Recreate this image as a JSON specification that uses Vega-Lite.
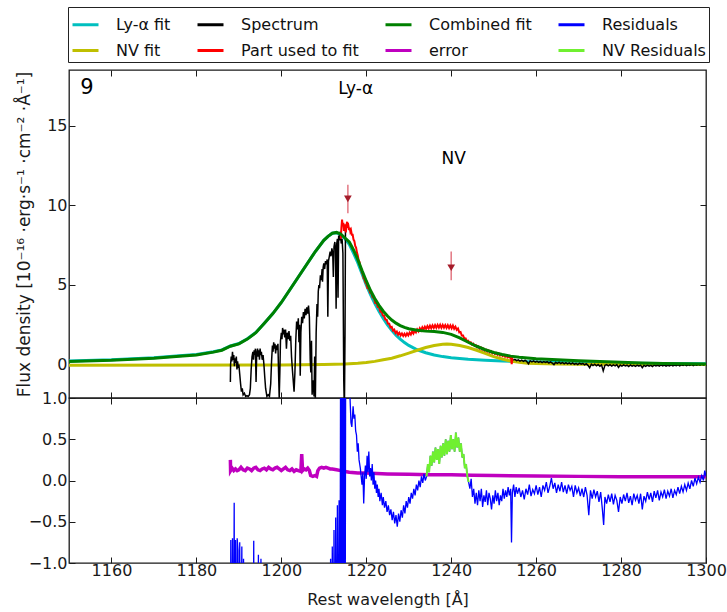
{
"$schema":"https://vega.github.io/schema/vega-lite/v6.json",
"padding":{"left":14,"top":5,"right":5,"bottom":5},
"config":{"font":"DejaVu Sans","view":{"stroke":"#1a1a1a","strokeWidth":1.3},
"axis":{"domain":false,"grid":false,"tickSize":-6,"tickColor":"#1a1a1a","tickWidth":1,"labelFontSize":16,"labelColor":"#1a1a1a","labelFont":"DejaVu Sans","labelFlush":false,"titleFont":"DejaVu Sans","titleFontSize":16,"titleFontWeight":"normal","titleColor":"#1a1a1a"}},
"datasets":{
"lya":[{"w":1150,"f":0.23},{"w":1160,"f":0.3},{"w":1170,"f":0.43},{"w":1176,"f":0.55},{"w":1180,"f":0.63},{"w":1184,"f":0.8},{"w":1186,"f":0.92},{"w":1188,"f":1.17},{"w":1190,"f":1.32},{"w":1192,"f":1.62},{"w":1194,"f":2.02},{"w":1196,"f":2.6},{"w":1198,"f":3.2},{"w":1200,"f":3.9},{"w":1202,"f":4.7},{"w":1204,"f":5.5},{"w":1206,"f":6.3},{"w":1208,"f":7.1},{"w":1210,"f":7.8},{"w":1211,"f":8.05},{"w":1212,"f":8.25},{"w":1213,"f":8.28},{"w":1214,"f":8.15},{"w":1215,"f":7.9},{"w":1216,"f":7.55},{"w":1217,"f":7.0},{"w":1218,"f":6.4},{"w":1219,"f":5.7},{"w":1220,"f":5.0},{"w":1221,"f":4.4},{"w":1222,"f":3.85},{"w":1223,"f":3.35},{"w":1224,"f":2.9},{"w":1225,"f":2.5},{"w":1226,"f":2.15},{"w":1227,"f":1.85},{"w":1228,"f":1.6},{"w":1229,"f":1.38},{"w":1230,"f":1.2},{"w":1232,"f":0.93},{"w":1234,"f":0.74},{"w":1236,"f":0.6},{"w":1238,"f":0.5},{"w":1240,"f":0.43},{"w":1244,"f":0.33},{"w":1248,"f":0.27},{"w":1252,"f":0.22},{"w":1256,"f":0.19},{"w":1260,"f":0.16},{"w":1270,"f":0.12},{"w":1280,"f":0.09},{"w":1290,"f":0.07},{"w":1300,"f":0.05}],
"nv":[{"w":1150,"f":-0.04},{"w":1200,"f":-0.02},{"w":1210,"f":0.0},{"w":1215,"f":0.03},{"w":1218,"f":0.08},{"w":1220,"f":0.13},{"w":1222,"f":0.2},{"w":1224,"f":0.3},{"w":1226,"f":0.4},{"w":1228,"f":0.55},{"w":1230,"f":0.72},{"w":1232,"f":0.9},{"w":1234,"f":1.07},{"w":1236,"f":1.2},{"w":1238,"f":1.28},{"w":1239,"f":1.29},{"w":1240,"f":1.28},{"w":1242,"f":1.2},{"w":1244,"f":1.07},{"w":1246,"f":0.9},{"w":1248,"f":0.7},{"w":1250,"f":0.5},{"w":1252,"f":0.35},{"w":1254,"f":0.22},{"w":1256,"f":0.14},{"w":1258,"f":0.09},{"w":1260,"f":0.06},{"w":1265,"f":0.03},{"w":1270,"f":0.02},{"w":1300,"f":0.0}],
"comb":[{"w":1150,"f":0.2},{"w":1160,"f":0.27},{"w":1170,"f":0.4},{"w":1176,"f":0.52},{"w":1180,"f":0.6},{"w":1184,"f":0.78},{"w":1186,"f":0.9},{"w":1188,"f":1.15},{"w":1190,"f":1.3},{"w":1192,"f":1.6},{"w":1194,"f":2.0},{"w":1196,"f":2.6},{"w":1198,"f":3.2},{"w":1200,"f":3.9},{"w":1202,"f":4.7},{"w":1204,"f":5.5},{"w":1206,"f":6.3},{"w":1208,"f":7.1},{"w":1210,"f":7.8},{"w":1211,"f":8.05},{"w":1212,"f":8.25},{"w":1213,"f":8.3},{"w":1214,"f":8.2},{"w":1215,"f":7.95},{"w":1216,"f":7.7},{"w":1217,"f":7.2},{"w":1218,"f":6.6},{"w":1219,"f":5.9},{"w":1220,"f":5.25},{"w":1221,"f":4.65},{"w":1222,"f":4.15},{"w":1223,"f":3.72},{"w":1224,"f":3.35},{"w":1225,"f":3.05},{"w":1226,"f":2.8},{"w":1227,"f":2.6},{"w":1228,"f":2.45},{"w":1229,"f":2.33},{"w":1230,"f":2.25},{"w":1232,"f":2.15},{"w":1234,"f":2.1},{"w":1236,"f":2.07},{"w":1238,"f":2.02},{"w":1240,"f":1.9},{"w":1242,"f":1.68},{"w":1244,"f":1.4},{"w":1246,"f":1.15},{"w":1248,"f":0.93},{"w":1250,"f":0.76},{"w":1252,"f":0.63},{"w":1254,"f":0.53},{"w":1256,"f":0.46},{"w":1258,"f":0.41},{"w":1260,"f":0.37},{"w":1265,"f":0.3},{"w":1270,"f":0.24},{"w":1275,"f":0.19},{"w":1280,"f":0.14},{"w":1285,"f":0.1},{"w":1290,"f":0.07},{"w":1295,"f":0.05},{"w":1300,"f":0.03}],
"spec":[{"w":1188.0,"f":-1.1},{"w":1188.05,"f":0.0},{"w":1188.2,"f":0.5},{"w":1188.35,"f":0.2},{"w":1188.5,"f":0.8},{"w":1188.65,"f":0.3},{"w":1188.8,"f":0.6},{"w":1188.95,"f":-0.1},{"w":1189.1,"f":0.4},{"w":1189.25,"f":0.1},{"w":1189.4,"f":0.5},{"w":1189.55,"f":-0.3},{"w":1189.7,"f":0.2},{"w":1189.85,"f":-0.2},{"w":1190.0,"f":0.0},{"w":1190.2,"f":-0.6},{"w":1190.4,"f":-1.2},{"w":1190.6,"f":-1.7},{"w":1190.8,"f":-1.5},{"w":1191.0,"f":-1.9},{"w":1191.3,"f":-1.8},{"w":1191.6,"f":-2.0},{"w":1191.9,"f":-1.95},{"w":1192.2,"f":-2.0},{"w":1192.5,"f":-1.9},{"w":1192.7,"f":-1.5},{"w":1192.9,"f":-0.3},{"w":1193.1,"f":0.5},{"w":1193.3,"f":0.8},{"w":1193.45,"f":0.3},{"w":1193.6,"f":0.9},{"w":1193.75,"f":0.6},{"w":1193.9,"f":1.0},{"w":1194.05,"f":-1.1},{"w":1194.2,"f":0.7},{"w":1194.4,"f":1.0},{"w":1194.55,"f":0.5},{"w":1194.7,"f":0.9},{"w":1194.85,"f":0.3},{"w":1195.0,"f":1.0},{"w":1195.15,"f":0.6},{"w":1195.3,"f":0.8},{"w":1195.5,"f":0.3},{"w":1195.7,"f":0.6},{"w":1195.9,"f":0.0},{"w":1196.1,"f":-0.8},{"w":1196.3,"f":-1.5},{"w":1196.6,"f":-2.0},{"w":1196.9,"f":-1.9},{"w":1197.2,"f":-2.0},{"w":1197.5,"f":-1.2},{"w":1197.7,"f":0.2},{"w":1197.9,"f":1.2},{"w":1198.05,"f":0.8},{"w":1198.2,"f":1.4},{"w":1198.35,"f":1.0},{"w":1198.5,"f":1.3},{"w":1198.65,"f":0.7},{"w":1198.8,"f":1.2},{"w":1199.0,"f":0.9},{"w":1199.2,"f":1.3},{"w":1199.35,"f":-0.5},{"w":1199.5,"f":-2.1},{"w":1199.65,"f":-0.5},{"w":1199.8,"f":1.5},{"w":1200.0,"f":2.0},{"w":1200.15,"f":1.6},{"w":1200.3,"f":2.3},{"w":1200.45,"f":1.9},{"w":1200.6,"f":2.2},{"w":1200.8,"f":1.7},{"w":1201.0,"f":2.2},{"w":1201.2,"f":1.0},{"w":1201.4,"f":2.0},{"w":1201.6,"f":1.6},{"w":1201.8,"f":2.1},{"w":1202.0,"f":1.5},{"w":1202.2,"f":1.8},{"w":1202.4,"f":0.5},{"w":1202.6,"f":-0.3},{"w":1202.8,"f":-1.0},{"w":1203.0,"f":-1.7},{"w":1203.2,"f":-0.5},{"w":1203.4,"f":1.5},{"w":1203.6,"f":2.7},{"w":1203.8,"f":2.2},{"w":1204.0,"f":2.9},{"w":1204.15,"f":1.4},{"w":1204.3,"f":2.5},{"w":1204.45,"f":-0.7},{"w":1204.6,"f":2.0},{"w":1204.8,"f":3.0},{"w":1205.0,"f":2.6},{"w":1205.2,"f":3.3},{"w":1205.4,"f":2.9},{"w":1205.6,"f":3.5},{"w":1205.8,"f":3.1},{"w":1206.0,"f":3.6},{"w":1206.2,"f":3.2},{"w":1206.4,"f":3.7},{"w":1206.6,"f":3.0},{"w":1206.8,"f":0.3},{"w":1206.95,"f":-0.5},{"w":1207.1,"f":1.5},{"w":1207.25,"f":-1.9},{"w":1207.4,"f":-1.0},{"w":1207.55,"f":-1.2},{"w":1207.7,"f":-2.0},{"w":1207.85,"f":0.5},{"w":1208.0,"f":-2.5},{"w":1208.2,"f":2.0},{"w":1208.4,"f":3.8},{"w":1208.55,"f":3.0},{"w":1208.7,"f":4.6},{"w":1208.85,"f":5.0},{"w":1209.0,"f":4.8},{"w":1209.2,"f":5.6},{"w":1209.4,"f":5.3},{"w":1209.6,"f":6.0},{"w":1209.7,"f":5.2},{"w":1209.85,"f":6.1},{"w":1210.0,"f":6.35},{"w":1210.2,"f":6.0},{"w":1210.4,"f":6.5},{"w":1210.6,"f":6.3},{"w":1210.8,"f":6.6},{"w":1210.95,"f":3.0},{"w":1211.1,"f":6.5},{"w":1211.3,"f":6.8},{"w":1211.5,"f":7.1},{"w":1211.7,"f":6.8},{"w":1211.9,"f":7.3},{"w":1212.1,"f":7.0},{"w":1212.25,"f":5.5},{"w":1212.4,"f":7.4},{"w":1212.6,"f":7.7},{"w":1212.75,"f":7.3},{"w":1212.9,"f":3.5},{"w":1213.05,"f":7.6},{"w":1213.2,"f":7.9},{"w":1213.35,"f":4.2},{"w":1213.5,"f":8.1},{"w":1213.7,"f":7.8},{"w":1213.9,"f":8.35},{"w":1214.1,"f":7.6},{"w":1214.3,"f":7.9},{"w":1214.5,"f":7.0},{"w":1214.7,"f":-1.0},{"w":1214.85,"f":-3.0},{"w":1215.0,"f":2.0},{"w":1215.1,"f":8.5},{"w":1215.3,"f":8.4}],
"specr":[{"w":1254.6,"f":0.28},{"w":1255.0,"f":0.33},{"w":1255.4,"f":0.25},{"w":1255.8,"f":0.3},{"w":1256.2,"f":0.22},{"w":1256.6,"f":0.28},{"w":1257.0,"f":0.2},{"w":1257.4,"f":0.27},{"w":1257.8,"f":0.19},{"w":1258.2,"f":0.05},{"w":1258.6,"f":0.24},{"w":1259.0,"f":0.17},{"w":1259.4,"f":0.23},{"w":1259.8,"f":0.15},{"w":1260.2,"f":0.22},{"w":1260.6,"f":0.14},{"w":1261.0,"f":0.2},{"w":1261.4,"f":0.12},{"w":1261.8,"f":0.19},{"w":1262.2,"f":0.13},{"w":1262.6,"f":0.18},{"w":1263.0,"f":0.1},{"w":1263.4,"f":0.17},{"w":1263.8,"f":0.09},{"w":1264.2,"f":0.0},{"w":1264.6,"f":0.14},{"w":1265.0,"f":0.08},{"w":1265.4,"f":0.15},{"w":1265.8,"f":0.06},{"w":1266.2,"f":0.13},{"w":1266.6,"f":0.05},{"w":1267.0,"f":0.12},{"w":1267.4,"f":0.04},{"w":1267.8,"f":0.1},{"w":1268.2,"f":0.03},{"w":1268.6,"f":0.1},{"w":1269.0,"f":0.02},{"w":1269.4,"f":0.08},{"w":1269.8,"f":0.0},{"w":1270.2,"f":0.09},{"w":1270.6,"f":0.02},{"w":1271.0,"f":0.07},{"w":1271.4,"f":-0.02},{"w":1271.8,"f":0.05},{"w":1272.2,"f":-0.05},{"w":1272.6,"f":-0.2},{"w":1273.0,"f":0.03},{"w":1273.4,"f":-0.06},{"w":1273.8,"f":0.02},{"w":1274.2,"f":-0.08},{"w":1274.6,"f":0.0},{"w":1275.0,"f":-0.1},{"w":1275.4,"f":-0.02},{"w":1275.8,"f":-0.4},{"w":1276.2,"f":-0.05},{"w":1276.6,"f":0.0},{"w":1277.0,"f":-0.08},{"w":1277.4,"f":-0.01},{"w":1277.8,"f":-0.09},{"w":1278.2,"f":-0.02},{"w":1278.6,"f":-0.08},{"w":1279.0,"f":0.0},{"w":1279.4,"f":-0.18},{"w":1279.8,"f":-0.03},{"w":1280.2,"f":-0.1},{"w":1280.6,"f":-0.02},{"w":1281.0,"f":-0.09},{"w":1281.4,"f":-0.04},{"w":1281.8,"f":-0.12},{"w":1282.2,"f":-0.03},{"w":1282.6,"f":-0.1},{"w":1283.0,"f":-0.05},{"w":1283.4,"f":-0.11},{"w":1283.8,"f":-0.03},{"w":1284.2,"f":-0.1},{"w":1284.6,"f":-0.04},{"w":1285.0,"f":-0.2},{"w":1285.4,"f":-0.05},{"w":1285.8,"f":-0.11},{"w":1286.2,"f":-0.04},{"w":1286.6,"f":-0.1},{"w":1287.0,"f":-0.05},{"w":1287.4,"f":-0.12},{"w":1287.8,"f":-0.03},{"w":1288.2,"f":-0.09},{"w":1288.6,"f":-0.04},{"w":1289.0,"f":-0.1},{"w":1289.4,"f":-0.02},{"w":1289.8,"f":-0.08},{"w":1290.2,"f":-0.03},{"w":1290.6,"f":-0.1},{"w":1291.0,"f":-0.04},{"w":1291.4,"f":-0.08},{"w":1291.8,"f":-0.02},{"w":1292.2,"f":-0.09},{"w":1292.6,"f":-0.03},{"w":1293.0,"f":-0.07},{"w":1293.4,"f":-0.01},{"w":1293.8,"f":-0.08},{"w":1294.2,"f":-0.02},{"w":1294.6,"f":-0.06},{"w":1295.0,"f":0.0},{"w":1295.4,"f":-0.07},{"w":1295.8,"f":-0.01},{"w":1296.2,"f":-0.05},{"w":1296.6,"f":0.01},{"w":1297.0,"f":-0.06},{"w":1297.4,"f":0.0},{"w":1297.8,"f":-0.04},{"w":1298.2,"f":0.02},{"w":1298.6,"f":-0.03},{"w":1299.0,"f":0.03},{"w":1299.4,"f":-0.02},{"w":1299.8,"f":0.02}],
"fitpart":[{"w":1214.0,"f":7.9},{"w":1214.15,"f":8.6},{"w":1214.3,"f":9.1},{"w":1214.45,"f":8.7},{"w":1214.6,"f":8.9},{"w":1214.75,"f":8.4},{"w":1214.9,"f":8.8},{"w":1215.05,"f":8.5},{"w":1215.2,"f":8.3},{"w":1215.35,"f":8.8},{"w":1215.5,"f":8.97},{"w":1215.65,"f":8.6},{"w":1215.8,"f":8.7},{"w":1215.95,"f":8.45},{"w":1216.1,"f":8.6},{"w":1216.25,"f":8.35},{"w":1216.4,"f":8.45},{"w":1216.6,"f":8.15},{"w":1216.8,"f":8.15},{"w":1217.0,"f":7.85},{"w":1217.2,"f":7.75},{"w":1217.4,"f":7.45},{"w":1217.6,"f":7.35},{"w":1217.8,"f":7.05},{"w":1218.0,"f":6.85},{"w":1218.2,"f":6.55},{"w":1218.4,"f":6.45},{"w":1218.6,"f":6.15},{"w":1218.8,"f":6.0},{"w":1219.0,"f":5.75},{"w":1219.2,"f":5.65},{"w":1219.4,"f":5.4},{"w":1219.6,"f":5.35},{"w":1219.8,"f":5.15},{"w":1220.0,"f":5.1},{"w":1220.3,"f":4.8},{"w":1220.6,"f":4.78},{"w":1220.9,"f":4.52},{"w":1221.2,"f":4.5},{"w":1221.5,"f":4.22},{"w":1221.8,"f":4.2},{"w":1222.1,"f":3.88},{"w":1222.4,"f":3.92},{"w":1222.7,"f":3.62},{"w":1223.0,"f":3.6},{"w":1223.3,"f":3.33},{"w":1223.6,"f":3.36},{"w":1223.9,"f":3.08},{"w":1224.2,"f":3.06},{"w":1224.5,"f":2.83},{"w":1224.8,"f":2.82},{"w":1225.1,"f":2.58},{"w":1225.4,"f":2.57},{"w":1225.7,"f":2.33},{"w":1226.0,"f":2.37},{"w":1226.3,"f":2.13},{"w":1226.6,"f":2.19},{"w":1226.9,"f":1.98},{"w":1227.2,"f":2.07},{"w":1227.5,"f":1.88},{"w":1227.8,"f":2.0},{"w":1228.1,"f":1.83},{"w":1228.4,"f":1.95},{"w":1228.7,"f":1.8},{"w":1229.0,"f":1.94},{"w":1229.3,"f":1.8},{"w":1229.6,"f":1.96},{"w":1229.9,"f":1.83},{"w":1230.2,"f":2.01},{"w":1230.5,"f":1.88},{"w":1230.8,"f":2.08},{"w":1231.1,"f":1.95},{"w":1231.4,"f":2.14},{"w":1231.7,"f":2.02},{"w":1232.0,"f":2.21},{"w":1232.3,"f":2.09},{"w":1232.6,"f":2.28},{"w":1232.9,"f":2.15},{"w":1233.2,"f":2.34},{"w":1233.5,"f":2.2},{"w":1233.8,"f":2.38},{"w":1234.1,"f":2.24},{"w":1234.4,"f":2.42},{"w":1234.7,"f":2.27},{"w":1235.0,"f":2.45},{"w":1235.3,"f":2.28},{"w":1235.6,"f":2.46},{"w":1235.9,"f":2.3},{"w":1236.2,"f":2.48},{"w":1236.5,"f":2.31},{"w":1236.8,"f":2.49},{"w":1237.1,"f":2.32},{"w":1237.4,"f":2.5},{"w":1237.7,"f":2.31},{"w":1238.0,"f":2.49},{"w":1238.3,"f":2.32},{"w":1238.6,"f":2.48},{"w":1238.9,"f":2.3},{"w":1239.2,"f":2.47},{"w":1239.5,"f":2.29},{"w":1239.8,"f":2.46},{"w":1240.1,"f":2.28},{"w":1240.4,"f":2.45},{"w":1240.7,"f":2.25},{"w":1241.0,"f":2.38},{"w":1241.3,"f":2.18},{"w":1241.6,"f":2.27},{"w":1241.9,"f":2.02},{"w":1242.2,"f":2.05},{"w":1242.5,"f":1.82},{"w":1242.8,"f":1.82},{"w":1243.1,"f":1.62},{"w":1243.4,"f":1.64},{"w":1243.7,"f":1.47},{"w":1244.0,"f":1.5},{"w":1244.3,"f":1.36},{"w":1244.6,"f":1.4},{"w":1244.9,"f":1.26},{"w":1245.2,"f":1.31},{"w":1245.5,"f":1.17},{"w":1245.8,"f":1.22},{"w":1246.1,"f":1.08},{"w":1246.4,"f":1.14},{"w":1246.7,"f":1.01},{"w":1247.0,"f":1.07},{"w":1247.3,"f":0.94},{"w":1247.6,"f":1.0},{"w":1247.9,"f":0.88},{"w":1248.2,"f":0.94},{"w":1248.5,"f":0.82},{"w":1248.8,"f":0.88},{"w":1249.1,"f":0.76},{"w":1249.4,"f":0.83},{"w":1249.7,"f":0.71},{"w":1250.0,"f":0.78},{"w":1250.3,"f":0.66},{"w":1250.6,"f":0.73},{"w":1250.9,"f":0.62},{"w":1251.2,"f":0.69},{"w":1251.5,"f":0.57},{"w":1251.8,"f":0.64},{"w":1252.1,"f":0.53},{"w":1252.4,"f":0.6},{"w":1252.7,"f":0.49},{"w":1253.0,"f":0.55},{"w":1253.3,"f":0.45},{"w":1253.6,"f":0.5},{"w":1253.9,"f":0.42},{"w":1254.1,"f":0.44},{"w":1254.25,"f":0.02},{"w":1254.4,"f":0.4},{"w":1254.55,"f":0.36}],
"err":[{"w":1188.0,"f":0.25},{"w":1188.05,"f":0.12},{"w":1188.4,"f":0.15},{"w":1188.8,"f":0.12},{"w":1189.2,"f":0.14},{"w":1189.6,"f":0.12},{"w":1190.0,"f":0.13},{"w":1190.5,"f":0.16},{"w":1191.0,"f":0.13},{"w":1191.5,"f":0.12},{"w":1192.0,"f":0.15},{"w":1192.5,"f":0.14},{"w":1193.0,"f":0.12},{"w":1193.5,"f":0.15},{"w":1194.0,"f":0.16},{"w":1194.5,"f":0.13},{"w":1195.0,"f":0.12},{"w":1195.5,"f":0.14},{"w":1196.0,"f":0.15},{"w":1196.5,"f":0.13},{"w":1197.0,"f":0.16},{"w":1197.5,"f":0.14},{"w":1198.0,"f":0.13},{"w":1198.5,"f":0.15},{"w":1199.0,"f":0.16},{"w":1199.5,"f":0.14},{"w":1200.0,"f":0.12},{"w":1200.5,"f":0.14},{"w":1201.0,"f":0.16},{"w":1201.5,"f":0.13},{"w":1202.0,"f":0.12},{"w":1202.5,"f":0.14},{"w":1203.0,"f":0.11},{"w":1203.5,"f":0.13},{"w":1204.0,"f":0.12},{"w":1204.6,"f":0.11},{"w":1204.8,"f":0.32},{"w":1205.0,"f":0.12},{"w":1205.4,"f":0.14},{"w":1205.8,"f":0.13},{"w":1206.2,"f":0.15},{"w":1206.6,"f":0.12},{"w":1206.9,"f":0.06},{"w":1207.4,"f":0.05},{"w":1207.9,"f":0.06},{"w":1208.3,"f":0.05},{"w":1208.6,"f":0.12},{"w":1209.0,"f":0.15},{"w":1209.5,"f":0.16},{"w":1210.0,"f":0.15},{"w":1210.5,"f":0.16},{"w":1211.0,"f":0.15},{"w":1211.5,"f":0.14},{"w":1212.0,"f":0.14},{"w":1213.0,"f":0.13},{"w":1214.0,"f":0.12},{"w":1215.0,"f":0.11},{"w":1216.0,"f":0.1},{"w":1218.0,"f":0.09},{"w":1220.0,"f":0.09},{"w":1225.0,"f":0.08},{"w":1230.0,"f":0.075},{"w":1235.0,"f":0.07},{"w":1240.0,"f":0.07},{"w":1245.0,"f":0.065},{"w":1250.0,"f":0.06},{"w":1260.0,"f":0.055},{"w":1270.0,"f":0.05},{"w":1280.0,"f":0.045},{"w":1290.0,"f":0.045},{"w":1300.0,"f":0.045}],
"res":[{"w":1188.0,"f":-3},{"w":1188.1,"f":-0.72},{"w":1188.3,"f":-3},{"w":1188.5,"f":-0.7},{"w":1188.7,"f":-3},{"w":1188.9,"f":-0.27},{"w":1189.0,"f":-3},{"w":1189.2,"f":-0.72},{"w":1189.4,"f":-3},{"w":1189.6,"f":-0.7},{"w":1189.8,"f":-0.85},{"w":1190.0,"f":-3},{"w":1190.2,"f":-0.75},{"w":1190.4,"f":-3},{"w":1190.7,"f":-0.8},{"w":1190.9,"f":-3},{"w":1191.1,"f":-0.95},{"w":1191.3,"f":-3},{"w":1193.4,"f":-3},{"w":1193.5,"f":-0.73},{"w":1193.6,"f":-3},{"w":1194.5,"f":-3},{"w":1194.6,"f":-0.9},{"w":1194.7,"f":-3},{"w":1195.1,"f":-3},{"w":1195.2,"f":-0.95},{"w":1195.3,"f":-3},{"w":1211.5,"f":-3},{"w":1211.6,"f":-0.95},{"w":1211.8,"f":-3},{"w":1212.0,"f":-0.8},{"w":1212.2,"f":-3},{"w":1212.4,"f":-0.6},{"w":1212.6,"f":-3},{"w":1212.8,"f":-0.45},{"w":1213.0,"f":-3},{"w":1213.2,"f":-0.3},{"w":1213.4,"f":-3},{"w":1213.6,"f":-0.24},{"w":1213.8,"f":-3},{"w":1214.0,"f":3},{"w":1214.2,"f":-3},{"w":1214.4,"f":3},{"w":1214.6,"f":-3},{"w":1214.8,"f":3},{"w":1215.0,"f":-3},{"w":1215.2,"f":3},{"w":1215.5,"f":1.2},{"w":1215.8,"f":3},{"w":1216.1,"f":1.1},{"w":1216.4,"f":0.7},{"w":1216.6,"f":0.65},{"w":1216.9,"f":0.9},{"w":1217.1,"f":0.75},{"w":1217.3,"f":0.8},{"w":1217.5,"f":0.6},{"w":1217.7,"f":0.55},{"w":1217.9,"f":0.35},{"w":1218.1,"f":0.45},{"w":1218.3,"f":0.25},{"w":1218.6,"f":0.15},{"w":1218.8,"f":0.05},{"w":1219.0,"f":-0.05},{"w":1219.2,"f":0.1},{"w":1219.4,"f":-0.28},{"w":1219.6,"f":0.05},{"w":1219.8,"f":0.18},{"w":1220.0,"f":0.02},{"w":1220.2,"f":0.3},{"w":1220.4,"f":0.1},{"w":1220.6,"f":0.35},{"w":1220.8,"f":0.05},{"w":1221.0,"f":0.15},{"w":1221.2,"f":0.0},{"w":1221.4,"f":0.2},{"w":1221.6,"f":-0.05},{"w":1221.8,"f":0.1},{"w":1222.0,"f":-0.1},{"w":1222.2,"f":0.0},{"w":1222.4,"f":-0.15},{"w":1222.6,"f":-0.05},{"w":1222.8,"f":-0.2},{"w":1223.0,"f":-0.1},{"w":1223.2,"f":-0.25},{"w":1223.5,"f":-0.15},{"w":1223.8,"f":-0.3},{"w":1224.0,"f":-0.2},{"w":1224.3,"f":-0.33},{"w":1224.6,"f":-0.25},{"w":1224.9,"f":-0.38},{"w":1225.2,"f":-0.3},{"w":1225.5,"f":-0.42},{"w":1225.8,"f":-0.35},{"w":1226.1,"f":-0.48},{"w":1226.4,"f":-0.38},{"w":1226.7,"f":-0.52},{"w":1227.0,"f":-0.42},{"w":1227.3,"f":-0.56},{"w":1227.6,"f":-0.4},{"w":1227.9,"f":-0.5},{"w":1228.2,"f":-0.36},{"w":1228.5,"f":-0.45},{"w":1228.8,"f":-0.3},{"w":1229.1,"f":-0.4},{"w":1229.4,"f":-0.25},{"w":1229.7,"f":-0.33},{"w":1230.0,"f":-0.2},{"w":1230.3,"f":-0.28},{"w":1230.6,"f":-0.15},{"w":1230.9,"f":-0.22},{"w":1231.2,"f":-0.1},{"w":1231.5,"f":-0.18},{"w":1231.8,"f":-0.05},{"w":1232.1,"f":-0.12},{"w":1232.4,"f":0.0},{"w":1232.7,"f":-0.08},{"w":1233.0,"f":0.05},{"w":1233.3,"f":-0.03},{"w":1233.6,"f":0.08},{"w":1233.9,"f":0.0},{"w":1234.2,"f":0.05},{"w":1234.5,"f":0.2},{"w":1234.8,"f":0.1},{"w":1235.1,"f":0.3},{"w":1235.4,"f":0.18},{"w":1235.7,"f":0.35},{"w":1236.0,"f":0.22},{"w":1236.3,"f":0.4},{"w":1236.6,"f":0.25},{"w":1236.9,"f":0.38},{"w":1237.2,"f":0.2},{"w":1237.5,"f":0.42},{"w":1237.8,"f":0.28},{"w":1238.1,"f":0.45},{"w":1238.4,"f":0.3},{"w":1238.7,"f":0.5},{"w":1239.0,"f":0.32},{"w":1239.3,"f":0.48},{"w":1239.6,"f":0.35},{"w":1239.9,"f":0.55},{"w":1240.2,"f":0.38},{"w":1240.5,"f":0.5},{"w":1240.8,"f":0.35},{"w":1241.1,"f":0.58},{"w":1241.4,"f":0.4},{"w":1241.7,"f":0.52},{"w":1242.0,"f":0.35},{"w":1242.3,"f":0.45},{"w":1242.6,"f":0.28},{"w":1242.9,"f":0.32},{"w":1243.2,"f":0.15},{"w":1243.5,"f":0.2},{"w":1243.8,"f":0.05},{"w":1244.1,"f":-0.02},{"w":1244.4,"f":-0.1},{"w":1244.7,"f":0.02},{"w":1245.0,"f":-0.2},{"w":1245.3,"f":-0.1},{"w":1245.6,"f":-0.28},{"w":1245.9,"f":-0.15},{"w":1246.2,"f":-0.3},{"w":1246.5,"f":-0.12},{"w":1246.8,"f":-0.25},{"w":1247.1,"f":-0.1},{"w":1247.4,"f":-0.32},{"w":1247.7,"f":-0.18},{"w":1248.0,"f":-0.26},{"w":1248.3,"f":-0.12},{"w":1248.6,"f":-0.3},{"w":1248.9,"f":-0.15},{"w":1249.2,"f":-0.22},{"w":1249.5,"f":-0.35},{"w":1249.8,"f":-0.18},{"w":1250.1,"f":-0.28},{"w":1250.4,"f":-0.12},{"w":1250.7,"f":-0.25},{"w":1251.0,"f":-0.15},{"w":1251.3,"f":-0.3},{"w":1251.6,"f":-0.18},{"w":1251.9,"f":-0.25},{"w":1252.2,"f":-0.1},{"w":1252.5,"f":-0.22},{"w":1252.8,"f":-0.12},{"w":1253.1,"f":-0.2},{"w":1253.4,"f":-0.08},{"w":1253.7,"f":-0.18},{"w":1254.0,"f":-0.1},{"w":1254.2,"f":-0.75},{"w":1254.4,"f":-0.15},{"w":1254.7,"f":-0.05},{"w":1255.0,"f":-0.2},{"w":1255.3,"f":-0.08},{"w":1255.6,"f":-0.16},{"w":1256.0,"f":-0.09},{"w":1256.4,"f":-0.2},{"w":1256.8,"f":-0.12},{"w":1257.2,"f":-0.23},{"w":1257.6,"f":-0.1},{"w":1258.0,"f":-0.17},{"w":1258.4,"f":-0.05},{"w":1258.8,"f":-0.19},{"w":1259.2,"f":-0.11},{"w":1259.6,"f":-0.16},{"w":1260.0,"f":-0.06},{"w":1260.4,"f":-0.17},{"w":1260.8,"f":-0.08},{"w":1261.2,"f":-0.2},{"w":1261.6,"f":-0.06},{"w":1262.0,"f":-0.12},{"w":1262.4,"f":-0.02},{"w":1262.8,"f":-0.15},{"w":1263.2,"f":-0.07},{"w":1263.6,"f":0.03},{"w":1264.0,"f":-0.1},{"w":1264.4,"f":-0.03},{"w":1264.8,"f":-0.15},{"w":1265.2,"f":-0.05},{"w":1265.6,"f":-0.13},{"w":1266.0,"f":-0.02},{"w":1266.4,"f":-0.14},{"w":1266.8,"f":-0.06},{"w":1267.2,"f":-0.16},{"w":1267.6,"f":-0.05},{"w":1268.0,"f":-0.12},{"w":1268.4,"f":-0.07},{"w":1268.8,"f":-0.2},{"w":1269.2,"f":-0.06},{"w":1269.6,"f":-0.15},{"w":1270.0,"f":-0.09},{"w":1270.4,"f":-0.19},{"w":1270.8,"f":-0.1},{"w":1271.2,"f":-0.2},{"w":1271.6,"f":-0.08},{"w":1272.0,"f":-0.18},{"w":1272.4,"f":-0.42},{"w":1272.8,"f":-0.12},{"w":1273.2,"f":-0.22},{"w":1273.6,"f":-0.11},{"w":1274.0,"f":-0.2},{"w":1274.4,"f":-0.13},{"w":1274.8,"f":-0.26},{"w":1275.2,"f":-0.14},{"w":1275.6,"f":-0.35},{"w":1275.9,"f":-0.54},{"w":1276.2,"f":-0.2},{"w":1276.6,"f":-0.28},{"w":1277.0,"f":-0.17},{"w":1277.4,"f":-0.26},{"w":1277.8,"f":-0.16},{"w":1278.2,"f":-0.29},{"w":1278.6,"f":-0.18},{"w":1279.0,"f":-0.24},{"w":1279.4,"f":-0.38},{"w":1279.8,"f":-0.2},{"w":1280.2,"f":-0.28},{"w":1280.6,"f":-0.17},{"w":1281.0,"f":-0.25},{"w":1281.4,"f":-0.15},{"w":1281.8,"f":-0.27},{"w":1282.2,"f":-0.19},{"w":1282.6,"f":-0.3},{"w":1283.0,"f":-0.16},{"w":1283.4,"f":-0.24},{"w":1283.8,"f":-0.18},{"w":1284.2,"f":-0.28},{"w":1284.6,"f":-0.16},{"w":1285.0,"f":-0.35},{"w":1285.4,"f":-0.19},{"w":1285.8,"f":-0.25},{"w":1286.2,"f":-0.14},{"w":1286.6,"f":-0.23},{"w":1287.0,"f":-0.15},{"w":1287.4,"f":-0.26},{"w":1287.8,"f":-0.13},{"w":1288.2,"f":-0.21},{"w":1288.6,"f":-0.12},{"w":1289.0,"f":-0.24},{"w":1289.4,"f":-0.14},{"w":1289.8,"f":-0.2},{"w":1290.2,"f":-0.11},{"w":1290.6,"f":-0.22},{"w":1291.0,"f":-0.13},{"w":1291.4,"f":-0.19},{"w":1291.8,"f":-0.1},{"w":1292.2,"f":-0.21},{"w":1292.6,"f":-0.12},{"w":1293.0,"f":-0.17},{"w":1293.4,"f":-0.08},{"w":1293.8,"f":-0.16},{"w":1294.2,"f":-0.07},{"w":1294.6,"f":-0.14},{"w":1295.0,"f":-0.05},{"w":1295.4,"f":-0.12},{"w":1295.8,"f":-0.03},{"w":1296.2,"f":-0.1},{"w":1296.6,"f":0.0},{"w":1297.0,"f":-0.07},{"w":1297.4,"f":0.03},{"w":1297.8,"f":-0.04},{"w":1298.2,"f":0.04},{"w":1298.6,"f":-0.02},{"w":1299.0,"f":0.06},{"w":1299.4,"f":0.0},{"w":1299.7,"f":0.12},{"w":1300.0,"f":0.05}],
"nvres":[{"w":1234.2,"f":0.05},{"w":1234.5,"f":0.2},{"w":1234.8,"f":0.1},{"w":1235.1,"f":0.3},{"w":1235.4,"f":0.18},{"w":1235.7,"f":0.35},{"w":1236.0,"f":0.22},{"w":1236.3,"f":0.4},{"w":1236.6,"f":0.25},{"w":1236.9,"f":0.38},{"w":1237.2,"f":0.2},{"w":1237.5,"f":0.42},{"w":1237.8,"f":0.28},{"w":1238.1,"f":0.45},{"w":1238.4,"f":0.3},{"w":1238.7,"f":0.5},{"w":1239.0,"f":0.32},{"w":1239.3,"f":0.48},{"w":1239.6,"f":0.35},{"w":1239.9,"f":0.55},{"w":1240.2,"f":0.38},{"w":1240.5,"f":0.5},{"w":1240.8,"f":0.35},{"w":1241.1,"f":0.58},{"w":1241.4,"f":0.4},{"w":1241.7,"f":0.52},{"w":1242.0,"f":0.35},{"w":1242.3,"f":0.45},{"w":1242.6,"f":0.28},{"w":1242.9,"f":0.32},{"w":1243.2,"f":0.15},{"w":1243.5,"f":0.2},{"w":1243.8,"f":0.05},{"w":1244.1,"f":-0.02}],
"arrows":[{"w":1215.67,"f":11.3,"f2":9.5},{"w":1240,"f":7.1,"f2":5.3}],
"heads":[{"w":1215.67,"f":10.4},{"w":1240,"f":6.08}],
"labels":[{"w":1217.5,"f":17.3,"t":"Ly-α"},{"w":1240.6,"f":12.9,"t":"NV"}],
"nine":[{"w":1154.2,"f":17.4,"t":"9"}]
},
"spacing":0,
"bounds":"flush",
"resolve":{"scale":{"color":"independent","x":"independent","y":"independent"}},
"vconcat":[
{"width":637,"height":328,
 "layer":[
  {"layer":[
   {"data":{"name":"lya"},"mark":{"type":"line","clip":true,"strokeWidth":3},
    "encoding":{
     "x":{"field":"w","type":"quantitative","scale":{"domain":[1150,1300],"nice":false,"zero":false},"axis":{"orient":"bottom","labels":false,"title":null,"values":[1160,1180,1200,1220,1240,1260,1280]}},
     "y":{"field":"f","type":"quantitative","scale":{"domain":[-2.1,18.5],"nice":false,"zero":false},"axis":{"orient":"left","values":[0,5,10,15],"labelPadding":8,"title":"Flux density [10⁻¹⁶ ·erg·s⁻¹ ·cm⁻² ·Å⁻¹]","titleFontSize":17,"titlePadding":13}},
     "color":{"datum":"Ly-α fit","scale":{"domain":["Ly-α fit","NV fit","Spectrum","Part used to fit","Combined fit","error","Residuals","NV Residuals"],"range":["#00bfbf","#bfbf00","#000000","#ff0000","#008000","#bf00bf","#0000ff","#70f030"]},
      "legend":{"title":null,"orient":"none","legendX":-1,"legendY":-63,"columns":4,"symbolType":"stroke","symbolSize":676,"symbolStrokeWidth":3,"labelFontSize":16,"labelFont":"DejaVu Sans","labelColor":"#111","labelOffset":16,"columnPadding":20,"rowPadding":3,"padding":3,"strokeColor":"#222","fillColor":"white","labelLimit":400}}}},
   {"data":{"name":"nv"},"mark":{"type":"line","clip":true,"strokeWidth":3},"encoding":{"x":{"field":"w","type":"quantitative"},"y":{"field":"f","type":"quantitative"},"color":{"datum":"NV fit"}}},
   {"data":{"name":"spec"},"mark":{"type":"line","clip":true,"strokeWidth":1.5},"encoding":{"x":{"field":"w","type":"quantitative"},"y":{"field":"f","type":"quantitative"},"color":{"datum":"Spectrum"}}},
   {"data":{"name":"specr"},"mark":{"type":"line","clip":true,"strokeWidth":1.5},"encoding":{"x":{"field":"w","type":"quantitative"},"y":{"field":"f","type":"quantitative"},"color":{"datum":"Spectrum"}}},
   {"data":{"name":"fitpart"},"mark":{"type":"line","clip":true,"strokeWidth":2},"encoding":{"x":{"field":"w","type":"quantitative"},"y":{"field":"f","type":"quantitative"},"color":{"datum":"Part used to fit"}}},
   {"data":{"name":"comb"},"mark":{"type":"line","clip":true,"strokeWidth":3},"encoding":{"x":{"field":"w","type":"quantitative"},"y":{"field":"f","type":"quantitative"},"color":{"datum":"Combined fit"}}},
   {"data":{"name":"arrows"},"mark":{"type":"rule","color":"#d94a5a","strokeWidth":1.5,"opacity":0.75},"encoding":{"x":{"field":"w","type":"quantitative"},"y":{"field":"f","type":"quantitative"},"y2":{"field":"f2"}}},
   {"data":{"name":"heads"},"mark":{"type":"point","shape":"triangle-down","filled":true,"size":60,"color":"#a51c2a","opacity":1},"encoding":{"x":{"field":"w","type":"quantitative"},"y":{"field":"f","type":"quantitative"}}},
   {"data":{"name":"nine"},"mark":{"type":"text","fontSize":21,"color":"#000","align":"center","baseline":"middle"},"encoding":{"x":{"field":"w","type":"quantitative"},"y":{"field":"f","type":"quantitative"},"text":{"field":"t"}}}
  ]},
  {"data":{"name":"labels"},"mark":{"type":"text","fontSize":17,"color":"#000","align":"center","baseline":"middle"},
   "encoding":{
    "x":{"field":"w","type":"quantitative","axis":{"orient":"top","labels":false,"title":null,"values":[1160,1180,1200,1220,1240,1260,1280]}},
    "y":{"field":"f","type":"quantitative","axis":{"orient":"right","labels":false,"title":null,"values":[0,5,10,15]}},
    "text":{"field":"t"}}}
 ],
 "resolve":{"axis":{"x":"independent","y":"independent"}}
},
{"width":637,"height":165,
 "layer":[
  {"layer":[
   {"data":{"name":"err"},"mark":{"type":"line","clip":true,"color":"#bf00bf","strokeWidth":3.5},
    "encoding":{
     "x":{"field":"w","type":"quantitative","scale":{"domain":[1150,1300],"nice":false,"zero":false},"axis":{"orient":"bottom","values":[1160,1180,1200,1220,1240,1260,1280,1300],"format":"d","labelPadding":5,"title":"Rest wavelength [Å]","titlePadding":13}},
     "y":{"field":"f","type":"quantitative","scale":{"domain":[-1,1],"nice":false,"zero":false},"axis":{"orient":"left","values":[-1,-0.5,0,0.5,1],"format":".1f","labelPadding":8,"title":null}}}},
   {"data":{"name":"res"},"mark":{"type":"line","clip":true,"color":"#0000ff","strokeWidth":1.3},"encoding":{"x":{"field":"w","type":"quantitative"},"y":{"field":"f","type":"quantitative"}}},
   {"data":{"name":"nvres"},"mark":{"type":"line","clip":true,"color":"#70f030","strokeWidth":2},"encoding":{"x":{"field":"w","type":"quantitative"},"y":{"field":"f","type":"quantitative"}}}
  ]},
  {"data":{"name":"err"},"mark":{"type":"line","opacity":0},
   "encoding":{
    "x":{"field":"w","type":"quantitative","axis":{"orient":"top","labels":false,"title":null,"values":[1160,1180,1200,1220,1240,1260,1280]}},
    "y":{"field":"f","type":"quantitative","axis":{"orient":"right","labels":false,"title":null,"values":[-0.5,0,0.5]}}}}
 ],
 "resolve":{"axis":{"x":"independent","y":"independent"}}
}
]
}
